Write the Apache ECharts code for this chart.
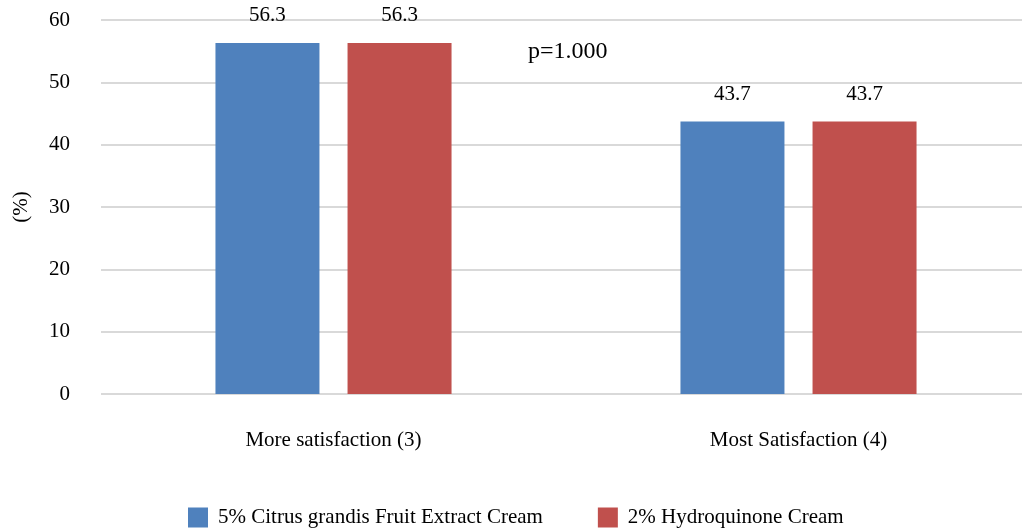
<!DOCTYPE html>
<html>
<head>
<meta charset="utf-8">
<script src="https://cdn.jsdelivr.net/npm/echarts@6/dist/echarts.min.js"></script>
<style>
  html, body { margin: 0; padding: 0; background: #fff; }
  #chart { width: 1022px; height: 531px; }
</style>
</head>
<body>
<div id="chart"></div>
<script>
const categories = ['More satisfaction (3)', 'Most Satisfaction (4)'];
const citrusValues = [56.3, 43.7];
const hydroValues = [56.3, 43.7];
const seriesNames = ['5% Citrus grandis Fruit Extract Cream', '2% Hydroquinone Cream'];

const font = 'Liberation Serif, Times New Roman, serif';
const chart = echarts.init(document.getElementById('chart'));

const barLabel = {
  show: true,
  position: 'top',
  distance: 17,
  fontFamily: font,
  fontSize: 21,
  color: '#000'
};

chart.setOption({
  animation: false,
  textStyle: { fontFamily: font },
  grid: { left: 101, top: 20, width: 930, height: 374, outerBoundsMode: 'none', containLabel: false },
  legend: {
    bottom: -2,
    left: 183,
    itemWidth: 20,
    itemHeight: 20,
    itemGap: 55,
    itemStyle: { borderWidth: 0 },
    icon: 'rect',
    textStyle: { fontFamily: font, fontSize: 21, color: '#000', padding: [0, 0, 0, 5] },
    data: seriesNames
  },
  xAxis: {
    type: 'category',
    data: categories,
    axisLine: { show: false },
    axisTick: { show: false },
    axisLabel: { margin: 36, fontFamily: font, fontSize: 21, color: '#000' }
  },
  yAxis: {
    type: 'value',
    min: 0,
    max: 60,
    interval: 10,
    name: '(%)',
    nameLocation: 'middle',
    nameGap: 69,
    nameRotate: 90,
    nameTextStyle: { fontFamily: font, fontSize: 21, color: '#000' },
    axisLabel: { margin: 31, fontFamily: font, fontSize: 21, color: '#000' },
    splitLine: { lineStyle: { color: '#d9d9d9', width: 2 } }
  },
  graphic: [{
    type: 'text',
    left: 528,
    top: 40,
    style: { text: 'p=1.000', font: '24px ' + font, fill: '#000' }
  }],
  series: [
    {
      name: seriesNames[0],
      type: 'bar',
      data: citrusValues,
      barWidth: 104,
      barGap: '27%',
      itemStyle: { color: '#4f81bd' },
      label: barLabel
    },
    {
      name: seriesNames[1],
      type: 'bar',
      data: hydroValues,
      barWidth: 104,
      itemStyle: { color: '#c0504d' },
      label: barLabel
    }
  ]
});
</script>
</body>
</html>
